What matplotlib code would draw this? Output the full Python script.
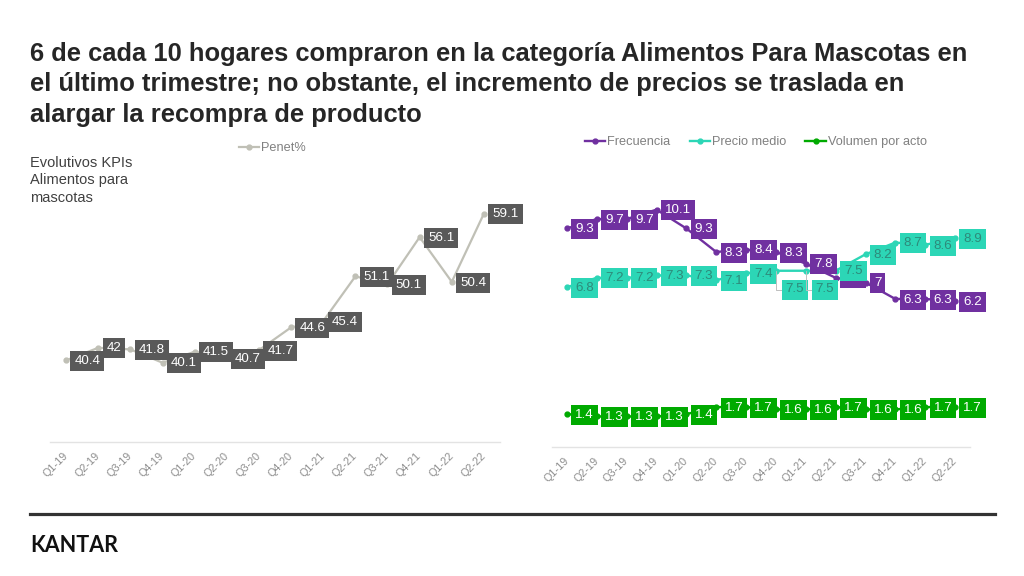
import matplotlib
matplotlib.use('Agg')
import matplotlib.pyplot as plt

quarters = ['Q1-19', 'Q2-19', 'Q3-19', 'Q4-19', 'Q1-20', 'Q2-20', 'Q3-20',
            'Q4-20', 'Q1-21', 'Q2-21', 'Q3-21', 'Q4-21', 'Q1-22', 'Q2-22']
penet = [40.4, 42, 41.8, 40.1, 41.5, 40.7, 41.7, 44.6, 45.4, 51.1, 50.1, 56.1, 50.4, 59.1]
frecuencia = [9.3, 9.7, 9.7, 10.1, 9.3, 8.3, 8.4, 8.3, 7.8, 7.2, 7, 6.3, 6.3, 6.2]
precio = [6.8, 7.2, 7.2, 7.3, 7.3, 7.1, 7.4, 7.5, 7.5, 7.5, 8.2, 8.7, 8.6, 8.9]
volumen = [1.4, 1.3, 1.3, 1.3, 1.4, 1.7, 1.7, 1.6, 1.6, 1.7, 1.6, 1.6, 1.7, 1.7]

title_lines = ["6 de cada 10 hogares compraron en la categoría Alimentos Para Mascotas en",
               "el último trimestre; no obstante, el incremento de precios se traslada en",
               "alargar la recompra de producto"]

BODY = ['Liberation Sans', 'DejaVu Sans']
plt.rcParams['font.family'] = BODY

W, H = 1024, 576
fig = plt.figure(figsize=(W / 100, H / 100), dpi=100)
fig.patch.set_facecolor('white')

def fx(px):
    return px / W

def fy(py):
    return 1 - py / H

# ---- title ----
for i, line in enumerate(title_lines):
    fig.text(fx(30), fy(61 + i * 30.5), line, fontsize=18.4,
             fontweight='bold', color='#262626', va='baseline', ha='left')

# ---- side note ----
fig.text(fx(30), fy(156), "Evolutivos KPIs\nAlimentos para\nmascotas", fontsize=10.5,
         color='#404040', va='top', ha='left', linespacing=1.3)

# ---- footer ----
fig.add_artist(plt.Line2D([fx(30), fx(995)], [fy(514), fy(514)], color='#333333', lw=2.3))
fig.text(fx(30), fy(545), "KANTAR", family=['Lato', 'Liberation Sans'], fontsize=15.5,
         fontweight='bold', color='#111111', va='center', ha='left')

x = list(range(len(quarters)))


def style_axis(ax, ylim):
    ax.set_xlim(-0.5, len(quarters) - 0.5)
    ax.set_ylim(*ylim)
    for s in ['top', 'left', 'right']:
        ax.spines[s].set_visible(False)
    ax.spines['bottom'].set_color('#E3E3E3')
    ax.spines['bottom'].set_linewidth(1)
    ax.set_yticks([])
    ax.set_xticks(x)
    ax.set_xticklabels(quarters, rotation=45, ha='right', va='center',
                       rotation_mode='anchor', fontsize=7.8, color='#8C8C8C')
    ax.tick_params(axis='x', length=0, pad=9)
    ax.patch.set_alpha(0)


def labels(ax, vals, fc, tc, special=None, z=5):
    special = special or {}
    for i, v in enumerate(vals):
        off = (6, -0.5)
        kw = {}
        if i in special:
            off = special[i]
            kw['arrowprops'] = dict(arrowstyle='-', color='#BFBFBF', lw=0.7,
                                    shrinkA=0, shrinkB=0,
                                    connectionstyle='angle,angleA=0,angleB=90')
        ax.annotate(f"{v:g}", (i, v), xytext=off, textcoords='offset points',
                    ha='left', va='center', fontsize=9.6, color=tc, zorder=z,
                    bbox=dict(boxstyle='square,pad=0.3', fc=fc, ec='none'),
                    annotation_clip=False, **kw)


# ---- left chart ----
axL = fig.add_axes([fx(50), fy(442), 450 / W, (442 - 128) / H])
style_axis(axL, (30, 70))
pen_color = '#C0C0B6'
lp, = axL.plot(x, penet, color=pen_color, lw=1.6, marker='o', ms=3.5, zorder=3,
               label='Penet%')
labels(axL, penet, '#595959', 'white')
fig.legend(handles=[lp], loc='center left', bbox_to_anchor=(fx(239), fy(148)),
           frameon=False, fontsize=9.2, labelcolor='#808080', handlelength=1.6,
           handletextpad=0.15, borderaxespad=0, borderpad=0)

# ---- right chart ----
axR = fig.add_axes([fx(552), fy(447), 418 / W, (447 - 165) / H])
style_axis(axR, (0, 12))
purple = '#7030A0'
teal = '#2CD6B6'
green = '#00AA00'
l1, = axR.plot(x, frecuencia, color=purple, lw=1.7, marker='o', ms=3.5, zorder=3,
               label='Frecuencia')
l2, = axR.plot(x, precio, color=teal, lw=1.7, marker='o', ms=3.5, zorder=3,
               label='Precio medio')
l3, = axR.plot(x, volumen, color=green, lw=1.7, marker='o', ms=3.5, zorder=3,
               label='Volumen por acto')
labels(axR, frecuencia, purple, 'white', z=5)
labels(axR, precio, teal, '#2E8A7A', special={7: (7, -13.5), 8: (7, -13.5)}, z=6)
labels(axR, volumen, green, 'white', z=5)
fig.legend(handles=[l1, l2, l3], loc='center left', bbox_to_anchor=(fx(585), fy(142)),
           ncol=3, frameon=False, fontsize=9.2, labelcolor='#808080', handlelength=1.6,
           handletextpad=0.15, columnspacing=1.5, borderaxespad=0, borderpad=0)

fig.savefig('out.png', dpi=100, facecolor='white')
